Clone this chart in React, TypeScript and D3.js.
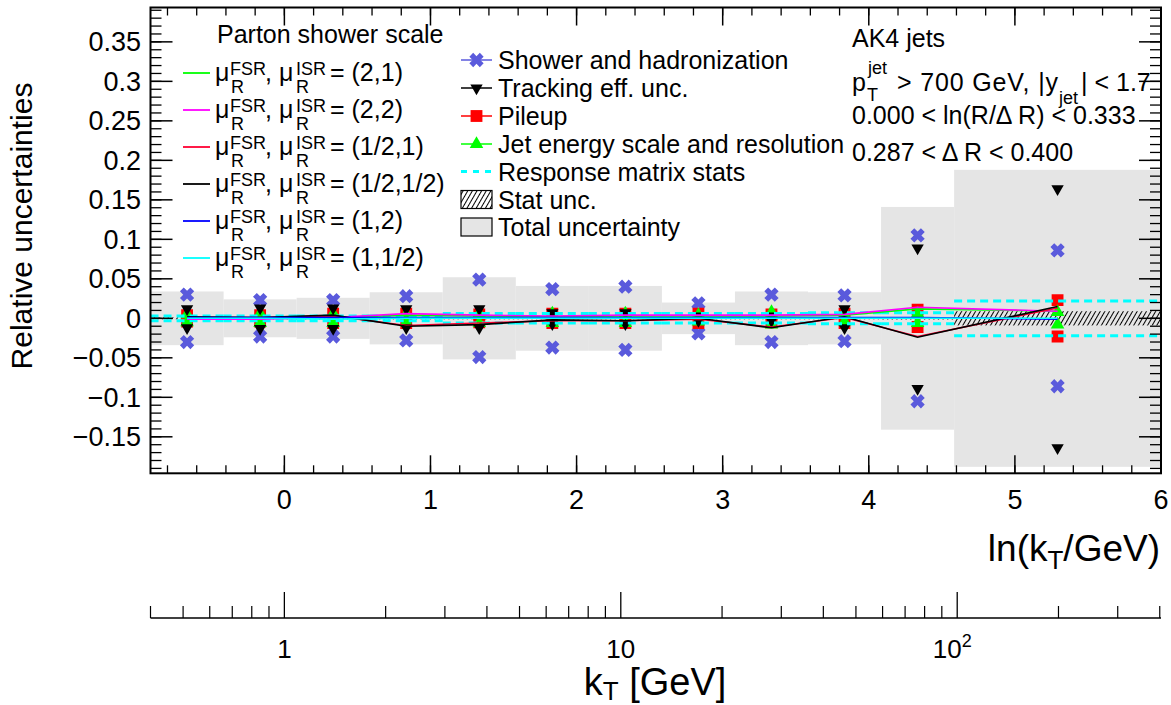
import * as d3 from "d3";

// bin edges in ln(kT/GeV)
const binEdges = [-0.916, -0.416, 0.084, 0.584, 1.084, 1.584, 2.084, 2.584, 3.084, 3.584, 4.084, 4.584, 6.0];

// symmetric uncertainties (+/-) per bin
const totalUnc = [0.034, 0.024, 0.026, 0.033, 0.052, 0.041, 0.041, 0.020, 0.034, 0.033, 0.141, 0.188];
const statUnc = [0.0012, 0.0012, 0.0012, 0.0012, 0.0012, 0.0012, 0.0012, 0.0012, 0.0012, 0.0012, 0.0015, 0.009];
const showerHad = [0.030, 0.023, 0.023, 0.028, 0.049, 0.037, 0.040, 0.019, 0.030, 0.029, 0.105, 0.086];
const tracking = [0.012, 0.013, 0.013, 0.012, 0.012, 0.007, 0.007, 0.003, 0.003, 0.012, 0.089, 0.164];
const pileup = [0.004, 0.004, 0.006, 0.006, 0.005, 0.006, 0.006, 0.006, 0.005, 0.006, 0.011, 0.023];
const jes = [0.005, 0.006, 0.006, 0.005, 0.006, 0.006, 0.006, 0.004, 0.008, 0.004, 0.006, 0.008];
const respStats = [0.003, 0.003, 0.003, 0.003, 0.006, 0.006, 0.006, 0.006, 0.006, 0.007, 0.007, 0.022];

// parton shower scale variations (signed)
const ps21 = [0.000, 0.000, 0.001, 0.004, 0.003, 0.002, 0.003, 0.003, 0.003, 0.004, 0.012, 0.009];
const ps22 = [-0.001, -0.001, 0.001, 0.006, 0.004, 0.003, 0.004, 0.004, 0.004, 0.005, 0.014, 0.009];
const psHalf1 = [0.001, 0.001, 0.003, -0.009, -0.006, -0.003, -0.003, -0.001, -0.011, 0.001, -0.023, 0.013];
const psHalfHalf = [0.002, 0.001, 0.004, -0.010, -0.008, -0.002, -0.003, 0.000, -0.012, 0.002, -0.024, 0.015];
const ps12 = [0.001, 0.001, 0.001, 0.001, 0.001, 0.001, 0.001, 0.001, 0.001, 0.001, 0.001, -0.001];
const ps1half = [0.000, 0.000, -0.001, 0.000, 0.000, 0.000, 0.000, 0.000, 0.000, 0.000, 0.000, 0.000];

const psSeries = [
  { label: "(2,1)", color: "#00ff00", values: ps21 },
  { label: "(2,2)", color: "#ff00ff", values: ps22 },
  { label: "(1/2,1)", color: "#ff0033", values: psHalf1 },
  { label: "(1/2,1/2)", color: "#000000", values: psHalfHalf },
  { label: "(1,2)", color: "#0000ff", values: ps12 },
  { label: "(1,1/2)", color: "#00ffff", values: ps1half },
];

const yTicks = [0.35, 0.3, 0.25, 0.2, 0.15, 0.1, 0.05, 0, -0.05, -0.1, -0.15];
const yTickLabels = ["0.35", "0.3", "0.25", "0.2", "0.15", "0.1", "0.05", "0", "\u22120.05", "\u22120.1", "\u22120.15"];
const lnTicks = [0, 1, 2, 3, 4, 5, 6];
const kTMajor = [1, 10, 100];

const FONT = "'Liberation Sans', Arial, Helvetica, sans-serif";
const X_COLOR = "#5a5adc";

const W = 1171, H = 705;
const left = 150.5, right = 1161, top = 7.5, bottom = 473.3;

// thick "x" marker
const XL = 7.4, XW = 2.7;
const xMarker = `M${-XW},${-XL}L${XW},${-XL}L${XW},${-XW}L${XL},${-XW}L${XL},${XW}L${XW},${XW}L${XW},${XL}L${-XW},${XL}L${-XW},${XW}L${-XL},${XW}L${-XL},${-XW}L${-XW},${-XW}Z`;

export default function App() {
  const x = d3.scaleLinear().domain([Math.log(0.4), 6]).range([left, right]);
  const y = d3.scaleLinear().domain([-0.1962, 0.3935]).range([bottom, top]);
  const xk = d3.scaleLog().domain([0.4, Math.exp(6)]).range([left, right]);

  const centers = binEdges.slice(0, -1).map((e, i) => (e + binEdges[i + 1]) / 2);
  const bins = centers.map((c, i) => ({ c, x0: binEdges[i], x1: binEdges[i + 1], i }));

  const triPath = d3.symbol(d3.symbolTriangle, 66)() as string;
  const sqPath = d3.symbol(d3.symbolSquare, 140)() as string;
  const triUpPath = d3.symbol(d3.symbolTriangle, 80)() as string;

  const line = d3.line<number>().x((_, i) => x(centers[i])).y((v) => y(v));

  // minor ticks
  const yMinor = d3.range(-0.19, 0.391, 0.01).map((v) => Math.round(v * 100) / 100);
  const xMinor = d3.range(-0.8, 6.01, 0.2).map((v) => Math.round(v * 10) / 10);
  const kMinor: number[] = [];
  [0.1, 1, 10, 100].forEach((d) => {
    for (let m = 1; m <= 9; m++) {
      const v = d * m;
      if (v >= 0.4 && v <= Math.exp(6) && !kTMajor.includes(v)) kMinor.push(v);
    }
  });

  const legendRows = [60, 88, 116, 144, 171.5, 199.5, 227];
  const legendText = [
    "Shower and hadronization",
    "Tracking eff. unc.",
    "Pileup",
    "Jet energy scale and resolution",
    "Response matrix stats",
    "Stat unc.",
    "Total uncertainty",
  ];
  const psRows = [73, 110, 147, 184, 221, 258];

  const pair = (v: number, i: number, shape: string, fill: string, extra = "") => (
    <g key={shape.slice(0, 8) + fill + i}>
      <path d={shape} transform={`translate(${x(centers[i])},${y(v)})${extra}`} fill={fill} />
      <path d={shape} transform={`translate(${x(centers[i])},${y(-v)})${extra}`} fill={fill} />
    </g>
  );

  return (
    <svg width={W} height={H} style={{ position: "absolute", left: 0, top: 0, background: "#fff" }} fontFamily={FONT}>
      <defs>
        <pattern id="hatch" width="4" height="4" patternUnits="userSpaceOnUse" patternTransform="rotate(30)">
          <line x1="0" y1="0" x2="0" y2="4" stroke="#000" strokeWidth="2" />
        </pattern>
        <clipPath id="plot">
          <rect x={left} y={top} width={right - left} height={bottom - top} />
        </clipPath>
      </defs>

      <g clipPath="url(#plot)">
        {/* total uncertainty */}
        {bins.map((b) => (
          <rect key={"t" + b.i} x={x(b.x0)} width={x(b.x1) - x(b.x0)} y={y(totalUnc[b.i])} height={y(-totalUnc[b.i]) - y(totalUnc[b.i])} fill="#e5e5e5" />
        ))}
        {/* stat uncertainty */}
        {bins.map((b) => (
          <rect key={"s" + b.i} x={x(b.x0)} width={x(b.x1) - x(b.x0)} y={y(statUnc[b.i])} height={y(-statUnc[b.i]) - y(statUnc[b.i])} fill="url(#hatch)" />
        ))}
        {showerHad.map((v, i) => pair(v, i, xMarker, X_COLOR, " rotate(45)"))}
        {pileup.map((v, i) => pair(v, i, sqPath, "#ff0000"))}
        {jes.map((v, i) => pair(v, i, triUpPath, "#00ff00"))}
        {tracking.map((v, i) => pair(v, i, triPath, "#000000", " rotate(180)"))}
        {/* response matrix stats */}
        {bins.map((b) => (
          <g key={"r" + b.i} stroke="#00ffff" strokeWidth="3" strokeDasharray="8,5">
            <line x1={x(b.x0)} x2={x(b.x1)} y1={y(respStats[b.i])} y2={y(respStats[b.i])} />
            <line x1={x(b.x0)} x2={x(b.x1)} y1={y(-respStats[b.i])} y2={y(-respStats[b.i])} />
          </g>
        ))}
        {/* parton shower variations */}
        {psSeries.map((s) => (
          <path key={s.label} d={line(s.values) as string} fill="none" stroke={s.color} strokeWidth="1.6" />
        ))}
      </g>

      {/* frame */}
      <rect x={left} y={top} width={right - left} height={bottom - top} fill="none" stroke="#000" strokeWidth="2" />

      {/* y ticks */}
      {yMinor.map((v) => (
        <g key={"ym" + v}>
          <line x1={left} x2={left + 11} y1={y(v)} y2={y(v)} stroke="#000" strokeWidth="1.3" />
          <line x1={right} x2={right - 11} y1={y(v)} y2={y(v)} stroke="#000" strokeWidth="1.3" />
        </g>
      ))}
      {yTicks.map((v, i) => (
        <g key={"yt" + v}>
          <line x1={left} x2={left + 22} y1={y(v)} y2={y(v)} stroke="#000" strokeWidth="1.5" />
          <line x1={right} x2={right - 22} y1={y(v)} y2={y(v)} stroke="#000" strokeWidth="1.5" />
          <text x={141} y={y(v) + 9.5} textAnchor="end" fontSize="27">{yTickLabels[i]}</text>
        </g>
      ))}

      {/* ln axis ticks */}
      {xMinor.map((v) => (
        <g key={"xm" + v}>
          <line x1={x(v)} x2={x(v)} y1={bottom} y2={bottom - 8} stroke="#000" strokeWidth="1.3" />
          <line x1={x(v)} x2={x(v)} y1={top} y2={top + 8} stroke="#000" strokeWidth="1.3" />
        </g>
      ))}
      {lnTicks.map((v) => (
        <g key={"xt" + v}>
          <line x1={x(v)} x2={x(v)} y1={bottom} y2={bottom - 18} stroke="#000" strokeWidth="1.5" />
          <line x1={x(v)} x2={x(v)} y1={top} y2={top + 18} stroke="#000" strokeWidth="1.5" />
          <text x={x(v)} y={509} textAnchor="middle" fontSize="27">{v}</text>
        </g>
      ))}
      <text x={1160} y={561} textAnchor="end" fontSize="37">
        ln(k<tspan dy="8" fontSize="26">T</tspan><tspan dy="-8">/GeV)</tspan>
      </text>

      {/* y title */}
      <text transform="translate(32,226) rotate(-90)" textAnchor="middle" fontSize="30">Relative uncertainties</text>

      {/* kT log axis */}
      <line x1={left} x2={right} y1={618} y2={618} stroke="#000" strokeWidth="1.5" />
      {kMinor.map((v) => (
        <line key={"km" + v} x1={xk(v)} x2={xk(v)} y1={618} y2={606} stroke="#000" strokeWidth="1.2" />
      ))}
      {kTMajor.map((v) => (
        <line key={"kM" + v} x1={xk(v)} x2={xk(v)} y1={618} y2={592} stroke="#000" strokeWidth="1.3" />
      ))}
      <text x={xk(1)} y={658} textAnchor="middle" fontSize="26">1</text>
      <text x={xk(10)} y={658} textAnchor="middle" fontSize="26">10</text>
      <text x={xk(100) - 5} y={658} textAnchor="middle" fontSize="26">
        10<tspan dy="-11" fontSize="18">2</tspan>
      </text>
      <text x={655} y={695} textAnchor="middle" fontSize="38">
        k<tspan dy="5" fontSize="26">T</tspan><tspan dy="-5"> [GeV]</tspan>
      </text>

      {/* parton shower legend */}
      <text x={217} y={43} fontSize="25">Parton shower scale</text>
      {psSeries.map((s, i) => {
        const r = psRows[i];
        return (
          <g key={"pl" + s.label}>
            <line x1={183} x2={210} y1={r} y2={r} stroke={s.color} strokeWidth="1.8" />
            <text x={215} y={r + 8} fontSize="25">μ</text>
            <text x={230} y={r + 2} fontSize="18">FSR</text>
            <text x={231} y={r + 20} fontSize="18">R</text>
            <text x={265} y={r + 8} fontSize="25">, μ</text>
            <text x={296} y={r + 2} fontSize="18">ISR</text>
            <text x={296} y={r + 20} fontSize="18">R</text>
            <text x={330} y={r + 8} fontSize="25">= {s.label}</text>
          </g>
        );
      })}

      {/* systematics legend */}
      <g>
        <line x1={461} x2={492} y1={legendRows[0]} y2={legendRows[0]} stroke={X_COLOR} strokeWidth="1.5" />
        <path d={xMarker} transform={`translate(476.5,${legendRows[0]}) rotate(45)`} fill={X_COLOR} />
        <line x1={461} x2={492} y1={legendRows[1]} y2={legendRows[1]} stroke="#000" strokeWidth="1.5" />
        <path d={triPath} transform={`translate(476.5,${legendRows[1]}) rotate(180)`} fill="#000" />
        <line x1={461} x2={492} y1={legendRows[2]} y2={legendRows[2]} stroke="#ff0000" strokeWidth="1.5" />
        <path d={sqPath} transform={`translate(476.5,${legendRows[2]})`} fill="#ff0000" />
        <line x1={461} x2={492} y1={legendRows[3]} y2={legendRows[3]} stroke="#00ff00" strokeWidth="1.5" />
        <path d={triUpPath} transform={`translate(476.5,${legendRows[3]})`} fill="#00ff00" />
        <line x1={461} x2={492} y1={legendRows[4]} y2={legendRows[4]} stroke="#00ffff" strokeWidth="3" strokeDasharray="6,6" />
        <rect x={461} y={legendRows[5] - 9} width={31} height={18} fill="url(#hatch)" stroke="#000" strokeWidth="1.2" />
        <rect x={461} y={legendRows[6] - 9} width={31} height={18} fill="#e5e5e5" stroke="#000" strokeWidth="1.2" />
        {legendText.map((t, i) => (
          <text key={t} x={498} y={legendRows[i] + 9} fontSize="25">{t}</text>
        ))}
      </g>

      {/* selection text */}
      <text x={852} y={47} fontSize="25">AK4 jets</text>
      <text x={852} y={91} fontSize="25">p</text>
      <text x={868} y={74} fontSize="18">jet</text>
      <text x={867} y={101} fontSize="18">T</text>
      <text x={897} y={91} fontSize="25" textLength="161" lengthAdjust="spacing">&gt; 700 GeV, |y</text>
      <text x={1059} y={104} fontSize="18">jet</text>
      <text x={1081} y={91} fontSize="25">| &lt; 1.7</text>
      <text x={852} y={124} fontSize="25">0.000 &lt; ln(R/Δ R) &lt; 0.333</text>
      <text x={852} y={161} fontSize="25">0.287 &lt; Δ R &lt; 0.400</text>
    </svg>
  );
}
